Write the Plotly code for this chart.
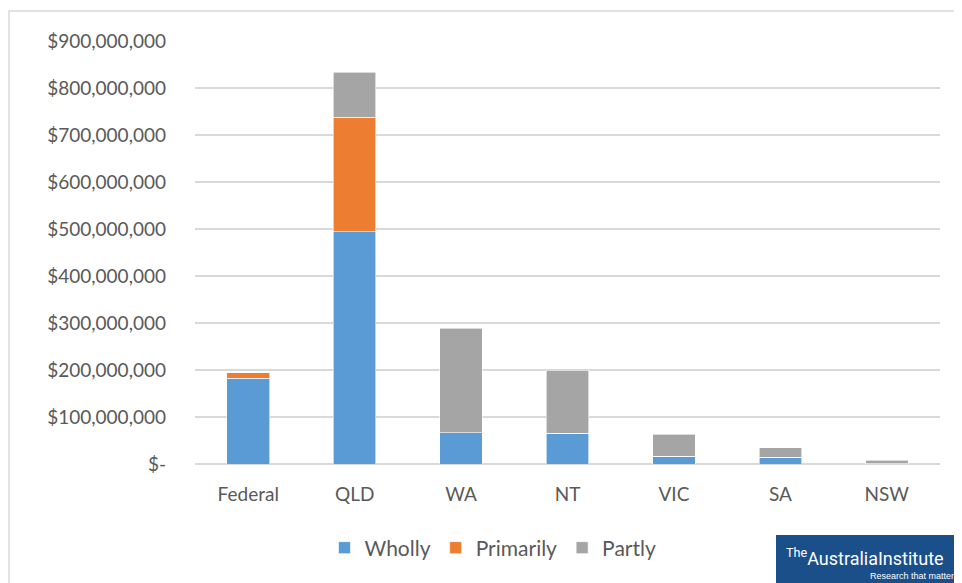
import plotly.graph_objects as go

# ---------------------------------------------------------------------------
# data (dollars)
jurisdictions = ["Federal", "QLD", "WA", "NT", "VIC", "SA", "NSW"]
wholly = [182e6, 494e6, 67e6, 65e6, 17e6, 14e6, 1e6]
primarily = [12e6, 244e6, 0, 0, 0, 0, 0]
partly = [0, 96e6, 222e6, 135e6, 46e6, 21e6, 7e6]

tick_vals = [i * 100e6 for i in range(10)]
tick_text = ["$-"] + ["${:,.0f}".format(v) for v in tick_vals[1:]]

series = [
  ("Wholly", wholly, "#5b9bd5"),
  ("Primarily", primarily, "#ed7d31"),
  ("Partly", partly, "#a5a5a5"),
]
# ---------------------------------------------------------------------------

# page has an 8px body margin, so the figure sits at (8, 8)
W, H = 954, 575
L, T, R, B = 187, 33, 22, 119
PW, PH = W - L - R, H - T - B


def px_x(x):
  # reference pixel x -> paper
  return (x - 8 - L) / PW


def px_y(y):
  # reference pixel y -> paper
  return (H - B - (y - 8)) / PH


# build stacked bars
fig = go.Figure()
for name, vals, col in series:
  fig.add_trace(go.Bar(
    x=jurisdictions, y=vals, name=name,
    marker=dict(color=col, line=dict(color="#ffffff", width=0.6)),
  ))

# custom layout
fig.update_layout(
  barmode="stack",
  bargap=0.6,
  width=W, height=H,
  margin=dict(l=L, r=R, t=T, b=B),
  paper_bgcolor="white",
  plot_bgcolor="white",
  font=dict(family="Lato, 'Open Sans', sans-serif", size=19, color="#595959"),
  legend=dict(
    orientation="h", x=px_x(493), xanchor="center", y=px_y(548), yanchor="middle",
    font=dict(size=21, color="#595959"), traceorder="normal",
  ),
  xaxis=dict(showline=False, ticks="", tickfont=dict(size=19), ticklabelstandoff=17),
  yaxis=dict(
    range=[0, 900e6], tickvals=tick_vals, ticktext=tick_text,
    showgrid=True, gridcolor="#d9d9d9", gridwidth=1.5,
    zeroline=True, zerolinecolor="#d9d9d9", zerolinewidth=1.5,
    ticks="", ticklen=0, tickfont=dict(size=19), ticklabelstandoff=28,
  ),
)

# outer border of the chart box
fig.add_shape(
  type="rect", xref="paper", yref="paper",
  x0=px_x(9), x1=px_x(960), y0=px_y(600), y1=px_y(11),
  line=dict(color="#d9d9d9", width=1.5), fillcolor="rgba(0,0,0,0)",
  layer="below",
)

# logo box bottom-right
fig.add_shape(
  type="rect", xref="paper", yref="paper",
  x0=px_x(776), x1=px_x(970), y0=px_y(590), y1=px_y(535),
  line=dict(width=0), fillcolor="#1b4f8a",
)
fig.add_annotation(
  xref="paper", yref="paper", x=px_x(784), y=px_y(557),
  xanchor="left", yanchor="middle", showarrow=False,
  text="<sup>The</sup>AustraliaInstitute",
  font=dict(family="'Liberation Sans Narrow', 'Roboto', sans-serif", size=18, color="white"),
)
fig.add_annotation(
  xref="paper", yref="paper", x=px_x(961), y=px_y(576),
  xanchor="right", yanchor="middle", showarrow=False,
  text="Research that matters",
  font=dict(family="'Liberation Sans Narrow', sans-serif", size=9, color="white"),
)

fig.write_html("out.html")
